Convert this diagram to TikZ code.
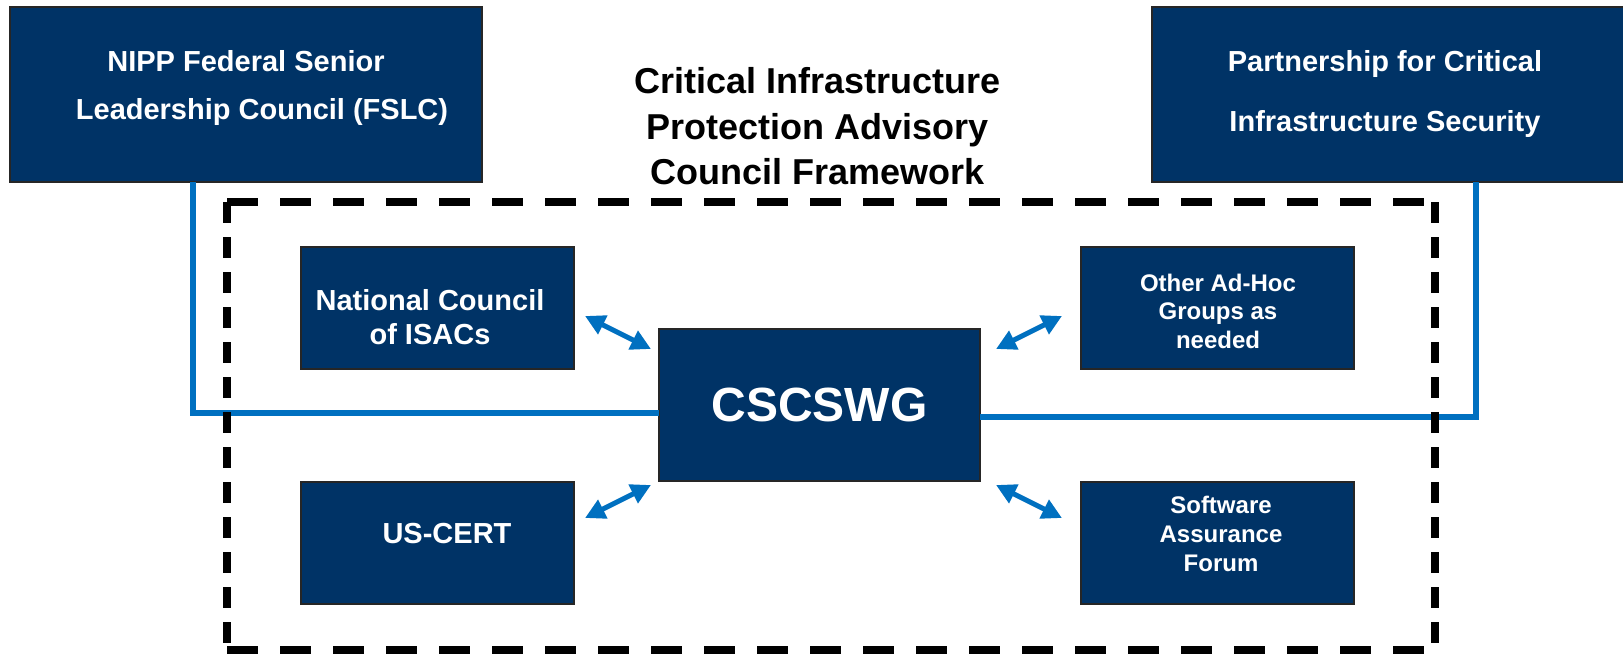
\documentclass[tikz,border=0pt]{standalone}
\usepackage{fontspec}
\setmainfont{Liberation Sans}
\usetikzlibrary{arrows.meta}
\definecolor{navy}{RGB}{0,51,102}
\definecolor{lineblue}{RGB}{0,112,192}
\begin{document}
\begin{tikzpicture}[x=1pt,y=-1pt,
  box/.style={draw=black!85, line width=1.2pt, fill=navy, inner sep=0pt, outer sep=0pt},
  wtext/.style={text=white, align=center, inner sep=0pt},
  link/.style={draw=lineblue, line width=6pt},
  dbl/.style={draw=lineblue, line width=5pt, {Triangle[length=20pt,width=20pt]}-{Triangle[length=20pt,width=20pt]}},
  dashH/.style={draw=black, line width=8.5pt, dash pattern=on 31pt off 22pt},
  dashV/.style={draw=black, line width=8.5pt, dash pattern=on 21pt off 14pt}]
\useasboundingbox (0,0) rectangle (1623,654);

% coordinates of connectors and frame
\coordinate (lc) at (193,413);
\coordinate (rc) at (1476,417);
\coordinate (d1) at (227,202);
\coordinate (d2) at (1435,202);
\coordinate (d3) at (1435,650);
\coordinate (d4) at (227,650);

% boxes
\node[box, minimum width=472pt, minimum height=175pt] (fslc) at (246,94.5) {};
\node[box, minimum width=474pt, minimum height=175pt] (pcis) at (1389,94.5) {};
\node[box, minimum width=273pt, minimum height=122pt] (nci) at (437.5,308) {};
\node[box, minimum width=273pt, minimum height=122pt] (cert) at (437.5,543) {};
\node[box, minimum width=273pt, minimum height=122pt] (adhoc) at (1217.5,308) {};
\node[box, minimum width=273pt, minimum height=122pt] (swa) at (1217.5,543) {};
\node[box, minimum width=321pt, minimum height=152pt, text=white,
      font=\bfseries\fontsize{48}{56}\selectfont] (csc) at (819.5,405) {CSCSWG};

% blue links
\draw[link] (fslc.south -| lc) -- (lc) -- (csc.west |- lc);
\draw[link] (csc.east |- rc) -- (rc) -- (pcis.south -| rc);

% dashed frame
\draw[dashH] (d1) -- (d2);
\draw[dashH] (d4) -- (d3);
\draw[dashV] (d1) -- (d4);
\draw[dashV] (d2) -- (d3);

% texts
\node[wtext, font=\bfseries\fontsize{29}{48}\selectfont] (fslct) at (262,87.5)
  {NIPP Federal Senior\hspace*{32pt}\\Leadership Council (FSLC)};
\node[wtext, font=\bfseries\fontsize{29}{60}\selectfont] (pcist) at (1385,94)
  {Partnership for Critical\\Infrastructure Security};
\node[align=center, inner sep=0pt, font=\bfseries\fontsize{36}{45.5}\selectfont] (title) at (817.5,126.5)
  {Critical Infrastructure\\Protection Advisory\\Council Framework};
\node[wtext, font=\bfseries\fontsize{29}{34}\selectfont] (ncit) at (430,317)
  {National Council\\of ISACs};
\node[wtext, font=\bfseries\fontsize{29}{34}\selectfont] (certt) at (447,534) {US-CERT};
\node[wtext, font=\bfseries\fontsize{24}{28.5}\selectfont] (adhoct) at (1218,311)
  {Other Ad-Hoc\\Groups as\\needed};
\node[wtext, font=\bfseries\fontsize{24}{29}\selectfont] (swat) at (1221,533.5)
  {Software\\Assurance\\Forum};

% double arrows
\coordinate (a1s) at (585,316);  \coordinate (a1e) at (651,349);
\coordinate (a2s) at (585,518);  \coordinate (a2e) at (651,485);
\coordinate (a3s) at (1062,316); \coordinate (a3e) at (996,349);
\coordinate (a4s) at (1062,518); \coordinate (a4e) at (996,485);
\draw[dbl] (a1s) -- (a1e);
\draw[dbl] (a2s) -- (a2e);
\draw[dbl] (a3s) -- (a3e);
\draw[dbl] (a4s) -- (a4e);
\end{tikzpicture}
\end{document}
